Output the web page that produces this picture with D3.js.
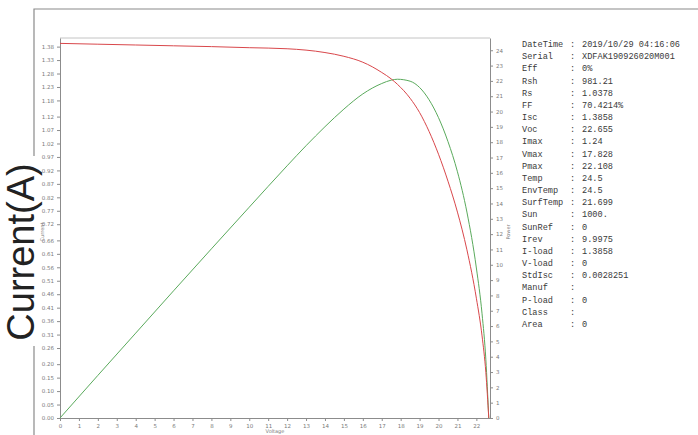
<!DOCTYPE html>
<html><head><meta charset="utf-8">
<script src="https://cdn.jsdelivr.net/npm/d3@7"></script>
<style>html,body{margin:0;padding:0;background:#fff;}svg{display:block;}</style>
</head><body>
<script>
// ---- data ----
const voltage = [0, 2, 4, 6, 8, 10, 12, 13, 14, 15, 16, 16.5, 17, 17.5, 17.828, 18.5, 19, 19.5, 20, 20.5, 21, 21.5, 22, 22.3, 22.5, 22.655];
const current = [1.392, 1.389, 1.386, 1.383, 1.380, 1.376, 1.372, 1.367, 1.358, 1.344, 1.322, 1.305, 1.284, 1.260, 1.240, 1.188, 1.135, 1.065, 0.980, 0.880, 0.765, 0.625, 0.445, 0.305, 0.170, 0];
const power   = [0, 2.78, 5.54, 8.30, 11.04, 13.76, 16.46, 17.77, 19.01, 20.16, 21.15, 21.53, 21.83, 22.05, 22.108, 21.98, 21.57, 20.77, 19.60, 18.04, 16.07, 13.44, 9.79, 6.80, 3.83, 0];
const xTicks = [0,1,2,3,4,5,6,7,8,9,10,11,12,13,14,15,16,17,18,19,20,21,22];
const currentTicks = [0.00,0.05,0.10,0.15,0.20,0.26,0.31,0.36,0.41,0.46,0.51,0.56,0.61,0.66,0.72,0.77,0.82,0.87,0.92,0.97,1.02,1.07,1.12,1.18,1.23,1.28,1.33,1.38];
const powerTicks = [0,1,2,3,4,5,6,7,8,9,10,11,12,13,14,15,16,17,18,19,20,21,22,23,24];
const infoLabels = ["DateTime","Serial","Eff","Rsh","Rs","FF","Isc","Voc","Imax","Vmax","Pmax","Temp","EnvTemp","SurfTemp","Sun","SunRef","Irev","I-load","V-load","StdIsc","Manuf","P-load","Class","Area"];
const infoValues = ["2019/10/29 04:16:06","XDFAK190926020M001","0%","981.21","1.0378","70.4214%","1.3858","22.655","1.24","17.828","22.108","24.5","24.5","21.699","1000.","0","9.9975","1.3858","0","0.0028251","","0","","0"];

const W = 698, H = 435;
const svg = d3.select("body").append("svg").attr("width", W).attr("height", H);

// outer frame
svg.append("path").attr("d", `M34,${H} L34,9 L${W},9`).attr("fill","none").attr("stroke","#8a8a8a").attr("stroke-width",1.2);

const L = 60, R = 490, T = 38, B = 418;
const x = d3.scaleLinear().domain([0, 22.72]).range([L, R]);
const yI = d3.scaleLinear().domain([0, 1.412]).range([B, T]);
const yP = d3.scaleLinear().domain([0, 24.8]).range([B, T]);

const axCol = "#8c8c8c", txtCol = "#7a7a7a";
const style = g => {
  g.selectAll("path,line").attr("stroke", axCol);
  g.selectAll("text").attr("fill", txtCol).attr("font-size", 5.5).attr("font-family", "DejaVu Sans, sans-serif");
};

// plot top border
svg.append("line").attr("x1",L).attr("x2",R).attr("y1",T).attr("y2",T).attr("stroke","#c4c4c4");

svg.append("g").attr("transform",`translate(0,${B})`)
  .call(d3.axisBottom(x).tickValues(xTicks).tickSize(3).tickSizeOuter(0).tickFormat(d3.format("d")))
  .call(style);
svg.append("g").attr("transform",`translate(${L},0)`)
  .call(d3.axisLeft(yI).tickValues(currentTicks).tickSize(3).tickSizeOuter(0).tickFormat(d3.format(".2f")))
  .call(style);
svg.append("g").attr("transform",`translate(${R},0)`)
  .call(d3.axisRight(yP).tickValues(powerTicks).tickSize(3).tickSizeOuter(0).tickFormat(d3.format("d")))
  .call(style);

// axis titles (small)
svg.append("text").attr("transform","translate(44,232) rotate(-90)").attr("text-anchor","middle")
  .attr("font-size",5).attr("fill",txtCol).attr("font-family","DejaVu Sans, sans-serif").text("Current");
svg.append("text").attr("transform","translate(510,232) rotate(-90)").attr("text-anchor","middle")
  .attr("font-size",5).attr("fill",txtCol).attr("font-family","DejaVu Sans, sans-serif").text("Power");
svg.append("text").attr("x",275).attr("y",433).attr("text-anchor","middle")
  .attr("font-size",5).attr("fill",txtCol).attr("font-family","DejaVu Sans, sans-serif").text("Voltage");

// curves
const ivData = voltage.map((v,i)=>[v,current[i]]);
const pvData = voltage.map((v,i)=>[v,power[i]]);
svg.append("path").datum(pvData).attr("fill","none").attr("stroke","#5aaa5c").attr("stroke-width",1)
  .attr("d", d3.line().x(d=>x(d[0])).y(d=>yP(d[1])).curve(d3.curveMonotoneX));
svg.append("path").datum(ivData).attr("fill","none").attr("stroke","#d9474b").attr("stroke-width",1)
  .attr("d", d3.line().x(d=>x(d[0])).y(d=>yI(d[1])).curve(d3.curveMonotoneX));

// info block
const info = svg.append("g").attr("font-family","Liberation Mono, Courier New, monospace").attr("font-size",8.6).attr("fill","#3a3a3a");
const lineY = d3.scaleLinear().domain([0, infoLabels.length-1]).range([47, 327]);
infoLabels.forEach((lab,i)=>{
  info.append("text").attr("x",522).attr("y",lineY(i)).text(lab);
  info.append("text").attr("x",570).attr("y",lineY(i)).text(":");
  info.append("text").attr("x",582).attr("y",lineY(i)).text(infoValues[i]);
});

// big label
svg.append("rect").attr("x",0).attr("y",156).attr("width",36).attr("height",190).attr("fill","#fff");
svg.append("text").attr("transform","translate(34,252) rotate(-90)").attr("text-anchor","middle")
  .attr("font-family","Liberation Sans, Arial, sans-serif").attr("font-size",38).attr("fill","#222").text("Current(A)");
</script>
</body></html>
